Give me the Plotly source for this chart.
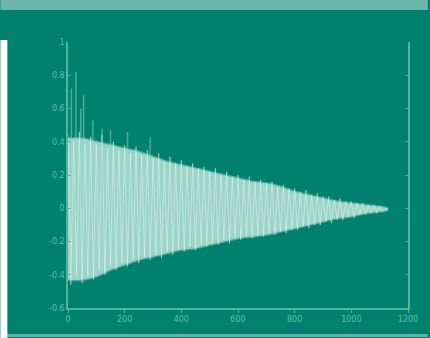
import plotly.graph_objects as go

# Envelope (x in samples)
env_x = [0, 50, 100, 150, 200, 250, 300, 350, 400, 450, 500, 550, 600,
         650, 700, 750, 800, 850, 900, 950, 1000, 1050, 1100, 1130]
env_upper = [0.42, 0.42, 0.40, 0.38, 0.36, 0.34, 0.31, 0.28, 0.26, 0.24, 0.22, 0.20,
             0.18, 0.16, 0.15, 0.13, 0.10, 0.08, 0.06, 0.04, 0.03, 0.02, 0.01, 0.0]
env_lower = [-0.43, -0.43, -0.41, -0.37, -0.34, -0.31, -0.29, -0.27, -0.25, -0.24, -0.22, -0.20,
             -0.18, -0.17, -0.16, -0.14, -0.12, -0.10, -0.08, -0.06, -0.05, -0.03, -0.02, -0.01]

# Oscillation peaks / troughs read from the streaks (step 20 samples)
peak_x = [0, 20, 40, 60, 80, 100, 120, 140, 160, 180, 200, 220, 240, 260, 280, 300, 320, 340,
          360, 380, 400, 420, 440, 460, 480, 500, 520, 540, 560, 580, 600, 620, 640, 660, 680,
          700, 720, 740, 760, 780, 800, 820, 840, 860, 880, 900, 920, 940, 960, 980, 1000, 1020,
          1040, 1060, 1080, 1100, 1120]
peak_hi = [0.45, 0.40, 0.46, 0.39, 0.43, 0.38, 0.44, 0.36, 0.40, 0.35, 0.38, 0.33, 0.37, 0.32,
           0.35, 0.30, 0.33, 0.28, 0.31, 0.27, 0.29, 0.25, 0.27, 0.24, 0.25, 0.22, 0.24, 0.20,
           0.22, 0.19, 0.20, 0.17, 0.19, 0.16, 0.17, 0.15, 0.16, 0.13, 0.14, 0.12, 0.12, 0.10,
           0.11, 0.08, 0.09, 0.07, 0.07, 0.05, 0.06, 0.04, 0.04, 0.03, 0.03, 0.02, 0.02, 0.01, 0.0]
trough_lo = [-0.46, -0.40, -0.45, -0.41, -0.43, -0.37, -0.40, -0.35, -0.37, -0.33, -0.35, -0.31,
             -0.33, -0.29, -0.31, -0.28, -0.30, -0.26, -0.28, -0.25, -0.26, -0.23, -0.25, -0.22,
             -0.23, -0.21, -0.22, -0.19, -0.21, -0.18, -0.19, -0.17, -0.18, -0.16, -0.17, -0.15,
             -0.16, -0.14, -0.15, -0.13, -0.13, -0.11, -0.12, -0.10, -0.10, -0.08, -0.09, -0.07,
             -0.07, -0.05, -0.06, -0.04, -0.04, -0.03, -0.03, -0.02, -0.01]

# Tall isolated spikes near the start
spike_x = [12, 28, 45, 55, 88, 120, 150, 210, 290]
spike_hi = [0.72, 0.82, 0.60, 0.68, 0.53, 0.48, 0.47, 0.46, 0.43]

x_ticks = [0, 200, 400, 600, 800, 1000, 1200]
y_ticks = [-0.6, -0.4, -0.2, 0, 0.2, 0.4, 0.6, 0.8, 1]
y_tick_text = ["-0.6", "-0.4", "-0.2", "0", "0.2", "0.4", "0.6", "0.8", "1"]

BG = "#00806e"
AX = "#4fb5a3"
TXT = "#5cc0ae"

fig = go.Figure()

fig.add_trace(go.Scatter(x=env_x, y=env_upper, mode="lines",
                         line=dict(color="rgba(140,205,190,0.5)", width=2.5, shape="spline"),
                         hoverinfo="skip", showlegend=False))
fig.add_trace(go.Scatter(x=env_x, y=env_lower, mode="lines", fill="tonexty",
                         fillcolor="rgba(195,232,223,0.8)",
                         line=dict(color="rgba(140,205,190,0.5)", width=2.5, shape="spline"),
                         hoverinfo="skip", showlegend=False))

zx, zy = [], []
for i, px in enumerate(peak_x):
    zx.append(px)
    zy.append(peak_hi[i])
    zx.append(px + 10)
    zy.append(trough_lo[i])
fig.add_trace(go.Scatter(x=zx, y=zy, mode="lines",
                         line=dict(color="rgba(235,250,246,0.45)", width=1),
                         hoverinfo="skip", showlegend=False))

sx, sy = [], []
for i, px in enumerate(spike_x):
    sx += [px, px, None]
    sy += [0.0, spike_hi[i], None]
fig.add_trace(go.Scatter(x=sx, y=sy, mode="lines",
                         line=dict(color="rgba(150,215,200,0.5)", width=1.5),
                         hoverinfo="skip", showlegend=False))

# frame decorations (pixel -> paper coordinates)
L, R, T, B = 68, 20, 42, 30
W, H = 430, 338
pw, ph = W - L - R, H - T - B
def px2x(p): return (p - L) / pw
def py2y(p): return (H - B - p) / ph

fig.add_shape(type="rect", xref="paper", yref="paper", x0=px2x(0), x1=px2x(W),
              y0=py2y(10), y1=py2y(0), fillcolor="#6db5a9", line_width=0, layer="below")
fig.add_shape(type="rect", xref="paper", yref="paper", x0=px2x(0), x1=px2x(W),
              y0=py2y(337), y1=py2y(334), fillcolor="#5fb3a6", line_width=0, layer="below")
fig.add_shape(type="rect", xref="paper", yref="paper", x0=px2x(0), x1=px2x(7),
              y0=py2y(338), y1=py2y(40), fillcolor="#ffffff", line_width=0, layer="below")

fig.update_layout(
    width=W, height=H,
    margin=dict(l=L, r=R, t=T, b=B),
    paper_bgcolor=BG, plot_bgcolor=BG,
    font=dict(family="DejaVu Sans", size=8, color=TXT),
)
fig.update_xaxes(range=[0, 1200], tickvals=x_ticks, showgrid=False, zeroline=False,
                 showline=True, linecolor=AX, linewidth=1.5, mirror=False,
                 ticks="outside", ticklen=3, tickcolor=AX, tickfont=dict(size=8, color=TXT))
fig.update_yaxes(range=[-0.6, 1], tickvals=y_ticks, ticktext=y_tick_text,
                 showgrid=False, zeroline=False,
                 showline=True, linecolor=AX, linewidth=1.5, mirror="ticks",
                 ticks="inside", ticklen=3, tickcolor=AX, tickfont=dict(size=8, color=TXT))

fig.write_html("out.html", config={"displayModeBar": False},
               post_script="document.body.style.margin='0px';document.body.style.padding='0px';")
